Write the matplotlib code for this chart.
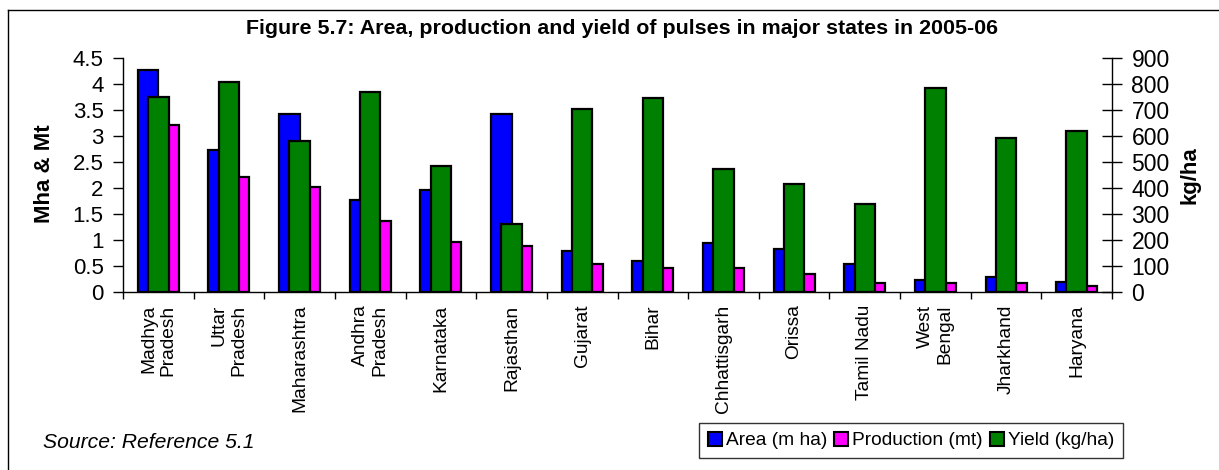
import matplotlib
matplotlib.use("Agg")
import matplotlib.pyplot as plt
import numpy as np
from matplotlib.lines import Line2D
from matplotlib.patches import Patch

states = ["Madhya\nPradesh", "Uttar\nPradesh", "Maharashtra", "Andhra\nPradesh",
          "Karnataka", "Rajasthan", "Gujarat", "Bihar", "Chhattisgarh", "Orissa",
          "Tamil Nadu", "West\nBengal", "Jharkhand", "Haryana"]
area = [4.26, 2.74, 3.42, 1.77, 1.97, 3.42, 0.78, 0.60, 0.95, 0.82, 0.53, 0.23, 0.29, 0.20]
production = [3.21, 2.22, 2.01, 1.37, 0.96, 0.89, 0.54, 0.455, 0.455, 0.34, 0.18, 0.17, 0.17, 0.12]
yield_kg = [751, 809, 582, 770, 486, 260, 703, 747, 474, 415, 337, 783, 593, 620]
left_ticks = [0, 0.5, 1, 1.5, 2, 2.5, 3, 3.5, 4, 4.5]
left_labels = ["0", "0.5", "1", "1.5", "2", "2.5", "3", "3.5", "4", "4.5"]
right_ticks = [0, 100, 200, 300, 400, 500, 600, 700, 800, 900]

plt.rcParams['font.family'] = ['Liberation Sans', 'DejaVu Sans']

W, H = 1219, 470
fig = plt.figure(figsize=(W / 100, H / 100), dpi=100)
ax = fig.add_axes([123 / W, 1 - 292 / H, (1112 - 123) / W, (292 - 58) / H])
ax2 = ax.twinx()

x = np.arange(len(states))
bw = 0.29
ec = dict(edgecolor='black', linewidth=1.6)
ax.bar(x - bw / 2, area, bw, color='#0000FF', **ec)
ax.bar(x + bw / 2, production, bw, color='#FF00FF', **ec)
ax2.bar(x, yield_kg, bw, color='#008000', **ec)

ax.set_xlim(-0.5, len(states) - 0.5)
ax.set_ylim(0, 4.5)
ax2.set_ylim(0, 900)

ax.set_yticks(left_ticks)
ax.set_yticklabels(left_labels)
ax2.set_yticks(right_ticks)

ax.set_xticks(x)
ax.set_xticklabels(states, rotation=90, ha='center', va='top', multialignment='right',
                   fontsize=13.8, linespacing=1.15)
ax.set_xticks(np.arange(-0.5, len(states), 1.0), minor=True)
ax.tick_params(axis='x', which='major', length=0, pad=9)
ax.tick_params(axis='x', which='minor', length=5, width=1, direction='out')
ax.tick_params(axis='y', length=7, width=1, direction='out', labelsize=16, pad=7)
ax2.tick_params(axis='y', length=14, width=1, direction='inout', labelsize=16.5, pad=7)

for a in (ax, ax2):
    a.spines['top'].set_visible(False)
    for s in a.spines.values():
        s.set_linewidth(1)
ax2.spines['left'].set_visible(False)
ax2.spines['bottom'].set_visible(False)
ax.spines['right'].set_visible(False)

fig.text(622 / W, 1 - 29 / H, "Figure 5.7: Area, production and yield of pulses in major states in 2005-06",
         ha='center', va='center', fontsize=15.4, fontweight='bold')
fig.text(45 / W, 1 - 174 / H, "Mha & Mt", rotation=90, ha='center', va='center',
         fontsize=16, fontweight='bold')
fig.text(1190 / W, 1 - 175 / H, "kg/ha", rotation=90, ha='center', va='center',
         fontsize=16, fontweight='bold')
fig.text(43 / W, 1 - 443 / H, "Source: Reference 5.1", ha='left', va='center',
         fontsize=15.2, fontstyle='italic')

handles = [Patch(facecolor='#0000FF', edgecolor='black', linewidth=1.5),
           Patch(facecolor='#FF00FF', edgecolor='black', linewidth=1.5),
           Patch(facecolor='#008000', edgecolor='black', linewidth=1.5)]
leg = fig.legend(handles, ["Area (m ha)", "Production (mt)", "Yield (kg/ha)"],
                 loc='center', bbox_to_anchor=(911 / W, 1 - 440.5 / H), ncol=3,
                 fontsize=13.8, frameon=True, fancybox=False, shadow=False,
                 handlelength=0.75, handleheight=0.75, handletextpad=0.2,
                 columnspacing=0.35, borderpad=0.45, borderaxespad=0)
leg.get_frame().set_edgecolor('black')
leg.get_frame().set_linewidth(1)

fig.add_artist(Line2D([8 / W, 8 / W], [0, 1 - 10 / H], transform=fig.transFigure, color='black', linewidth=1))
fig.add_artist(Line2D([8 / W, 1], [1 - 10 / H, 1 - 10 / H], transform=fig.transFigure, color='black', linewidth=1))

fig.savefig("out.png", dpi=100)
